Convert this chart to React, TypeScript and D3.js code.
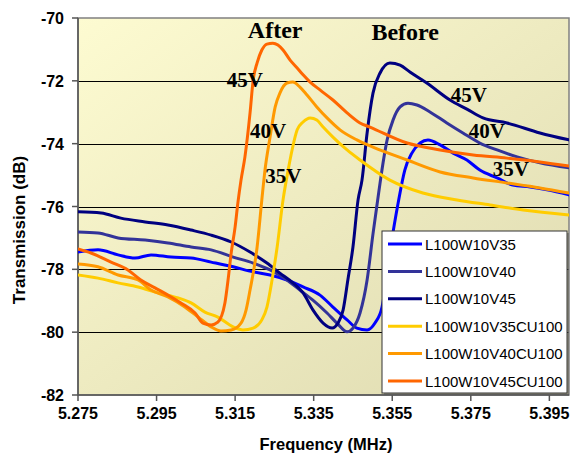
import React from "react";
import * as d3 from "d3";

type Pt = [number, number];

const seriesNames = [
  "L100W10V35",
  "L100W10V40",
  "L100W10V45",
  "L100W10V35CU100",
  "L100W10V40CU100",
  "L100W10V45CU100",
];
const seriesColors = ["#0000FF", "#333399", "#000080", "#FFCC00", "#FF9900", "#FF6600"];

const v35: Pt[] = [
  [5.275, -77.45], [5.2801, -77.38], [5.2852, -77.54], [5.2895, -77.64], [5.2936, -77.54],
  [5.2987, -77.61], [5.3038, -77.64], [5.3089, -77.77], [5.3145, -77.92], [5.3196, -78.08],
  [5.3239, -78.18], [5.3282, -78.34], [5.3323, -78.56], [5.3366, -78.82], [5.3399, -79.2],
  [5.3435, -79.61], [5.346, -79.87], [5.3486, -79.93], [5.3506, -79.71], [5.3524, -79.2],
  [5.3537, -78.18], [5.3549, -77.07], [5.3565, -75.89], [5.3582, -74.84], [5.36, -74.3],
  [5.3621, -73.98], [5.3641, -73.88], [5.3672, -74.04], [5.3705, -74.3], [5.374, -74.52],
  [5.3773, -74.84], [5.3817, -75.09], [5.3857, -75.32], [5.3901, -75.38], [5.3944, -75.47],
  [5.4, -75.63],
];
const v40: Pt[] = [
  [5.275, -76.81], [5.2801, -76.84], [5.2852, -77.0], [5.2921, -77.07], [5.2979, -77.16],
  [5.3038, -77.29], [5.3089, -77.38], [5.3145, -77.61], [5.3196, -77.8], [5.3239, -78.02],
  [5.3282, -78.34], [5.3315, -78.66], [5.3348, -78.98], [5.3384, -79.39], [5.3409, -79.71],
  [5.3435, -79.99], [5.345, -79.87], [5.3468, -79.39], [5.3486, -78.34], [5.3501, -76.87],
  [5.3514, -75.7], [5.3519, -75.25], [5.3537, -73.88], [5.3552, -73.25], [5.357, -72.83],
  [5.359, -72.71], [5.3613, -72.77], [5.3646, -72.99], [5.3689, -73.34], [5.373, -73.66],
  [5.3773, -73.98], [5.3817, -74.2], [5.3868, -74.42], [5.3926, -74.61], [5.4, -74.77],
];
const v45: Pt[] = [
  [5.275, -76.17], [5.2809, -76.21], [5.2859, -76.37], [5.2921, -76.49], [5.2979, -76.59],
  [5.3038, -76.75], [5.3089, -76.91], [5.314, -77.13], [5.3188, -77.45], [5.3231, -77.8],
  [5.3264, -78.12], [5.3297, -78.43], [5.3323, -78.75], [5.3348, -79.29], [5.3374, -79.71],
  [5.3397, -79.87], [5.3412, -79.71], [5.3425, -79.29], [5.3437, -78.34], [5.345, -77.29],
  [5.3463, -75.79], [5.3473, -75.16], [5.3486, -73.66], [5.3501, -72.39], [5.3519, -71.75],
  [5.3544, -71.43], [5.357, -71.5], [5.3595, -71.72], [5.3638, -72.07], [5.3697, -72.61],
  [5.374, -72.9], [5.3781, -73.18], [5.3842, -73.34], [5.3926, -73.66], [5.4, -73.88],
];
const v35cu: Pt[] = [
  [5.275, -78.18], [5.2801, -78.28], [5.2852, -78.43], [5.2903, -78.56], [5.2954, -78.75],
  [5.3005, -78.91], [5.3038, -79.07], [5.3073, -79.36], [5.3106, -79.52], [5.3145, -79.83],
  [5.317, -79.93], [5.3196, -79.87], [5.3218, -79.61], [5.3231, -79.2], [5.3244, -78.34],
  [5.3257, -77.29], [5.3272, -75.79], [5.3285, -74.84], [5.3295, -74.2], [5.3308, -73.56],
  [5.3323, -73.31], [5.3341, -73.18], [5.3358, -73.25], [5.3374, -73.47], [5.3399, -73.79],
  [5.3435, -74.2], [5.3468, -74.52], [5.3544, -75.16], [5.3628, -75.57], [5.3715, -75.79],
  [5.3799, -75.95], [5.3883, -76.11], [5.4, -76.27],
];
const v40cu: Pt[] = [
  [5.275, -77.83], [5.2801, -77.92], [5.2852, -78.18], [5.2903, -78.34], [5.2936, -78.66],
  [5.2979, -78.88], [5.3022, -79.2], [5.3056, -79.52], [5.3089, -79.83], [5.3114, -79.96],
  [5.314, -79.93], [5.3165, -79.71], [5.3178, -79.29], [5.3188, -78.66], [5.3206, -77.29],
  [5.3218, -75.79], [5.3226, -74.84], [5.3239, -73.79], [5.3252, -72.83], [5.3264, -72.39],
  [5.3282, -72.07], [5.3297, -72.04], [5.3315, -72.2], [5.3333, -72.45], [5.3358, -72.83],
  [5.3384, -73.18], [5.3417, -73.56], [5.346, -73.88], [5.3501, -74.11], [5.3588, -74.52],
  [5.3672, -74.9], [5.3756, -75.09], [5.3842, -75.25], [5.3926, -75.41], [5.4, -75.57],
];
const v45cu: Pt[] = [
  [5.275, -77.35], [5.2783, -77.48], [5.2834, -77.77], [5.2877, -78.02], [5.291, -78.34],
  [5.2946, -78.59], [5.2979, -78.82], [5.3012, -79.07], [5.3048, -79.39], [5.3068, -79.71],
  [5.3089, -79.77], [5.3106, -79.68], [5.3124, -79.07], [5.3132, -78.34], [5.314, -77.48],
  [5.315, -76.65], [5.3157, -75.89], [5.3165, -75.16], [5.3175, -74.42], [5.3188, -73.02],
  [5.3196, -71.97], [5.3206, -71.43], [5.3218, -71.02], [5.3231, -70.83], [5.3246, -70.8],
  [5.3259, -70.86], [5.3272, -71.02], [5.329, -71.34], [5.3308, -71.59], [5.3323, -71.81],
  [5.3341, -72.04], [5.3366, -72.29], [5.3399, -72.61], [5.3435, -73.02], [5.3468, -73.34],
  [5.3493, -73.47], [5.3588, -73.98], [5.3672, -74.2], [5.3756, -74.36], [5.3842, -74.46],
  [5.3926, -74.58], [5.4, -74.71],
];
const allSeries = [v35, v40, v45, v35cu, v40cu, v45cu];

const xTicks = [5.275, 5.295, 5.315, 5.335, 5.355, 5.375, 5.395];
const yTicks = [-82, -80, -78, -76, -74, -72, -70];
const gridValues = [-80, -78, -76, -74, -72];

const groupLabels = ["After", "Before"];
const groupLabelFreq = [5.3252, 5.3583];
const groupLabelDb = [-70.63, -70.7];

const voltLabels = ["45V", "40V", "35V", "45V", "40V", "35V"];
const voltLabelFreq = [5.3175, 5.3234, 5.3273, 5.3745, 5.3791, 5.3852];
const voltLabelDb = [-72.2, -73.82, -75.25, -72.67, -73.82, -75.03];

const W = 570;
const H = 453;
const M = { left: 78, right: 569, top: 18, bottom: 395 };

export default function App() {
  const x = d3.scaleLinear().domain([5.275, 5.4]).range([M.left, M.right]);
  const y = d3.scaleLinear().domain([-82, -70]).range([M.bottom, M.top]);
  const line = d3
    .line<Pt>()
    .x((d) => x(d[0]))
    .y((d) => y(d[1]))
    .curve(d3.curveMonotoneX);

  const legX = 382;
  const legY = 231;
  const legW = 185;
  const legH = 162;
  const rowH = 27.4;

  return (
    <svg
      width={W}
      height={H}
      style={{ position: "absolute", left: 0, top: 0, background: "#fff" }}
      fontFamily="Liberation Sans, Arial, sans-serif"
    >
      <defs>
        <linearGradient id="bg" x1="0" y1="0" x2="1" y2="1">
          <stop offset="0%" stopColor="#FDFBD1" />
          <stop offset="100%" stopColor="#DEDAB0" />
        </linearGradient>
        <clipPath id="plot">
          <rect x={M.left} y={M.top} width={M.right - M.left} height={M.bottom - M.top} />
        </clipPath>
      </defs>
      <rect
        x={M.left}
        y={M.top}
        width={M.right - M.left}
        height={M.bottom - M.top}
        fill="url(#bg)"
      />
      {gridValues.map((v) => (
        <line
          key={v}
          x1={M.left}
          x2={M.right}
          y1={Math.round(y(v)) + 0.5}
          y2={Math.round(y(v)) + 0.5}
          stroke="#000"
          strokeWidth={1}
        />
      ))}
      <rect
        x={M.left}
        y={M.top}
        width={M.right - M.left}
        height={M.bottom - M.top}
        fill="none"
        stroke="#808080"
        strokeWidth={1.5}
      />
      <line x1={M.left} x2={M.left} y1={M.top} y2={M.bottom} stroke="#555" strokeWidth={1.5} />
      <line x1={M.left} x2={M.right} y1={M.bottom} y2={M.bottom} stroke="#555" strokeWidth={1.5} />
      {yTicks.map((t) => (
        <g key={t}>
          <line x1={M.left - 6} x2={M.left} y1={y(t)} y2={y(t)} stroke="#555" strokeWidth={1.5} />
          <text
            x={M.left - 14}
            y={y(t) + 6}
            textAnchor="end"
            fontSize={16}
            fontWeight="bold"
            fill="#000"
          >
            {t}
          </text>
        </g>
      ))}
      {xTicks.map((t) => (
        <g key={t}>
          <line x1={x(t)} x2={x(t)} y1={M.bottom} y2={M.bottom + 6} stroke="#555" strokeWidth={1.5} />
          <text x={x(t)} y={419} textAnchor="middle" fontSize={16} fontWeight="bold" fill="#000">
            {t.toFixed(3)}
          </text>
        </g>
      ))}
      <text x={326} y={450} textAnchor="middle" fontSize={16.5} fontWeight="bold" fill="#000">
        Frequency (MHz)
      </text>
      <text
        transform={`translate(25,${230}) rotate(-90)`}
        textAnchor="middle"
        fontSize={17}
        fontWeight="bold"
        fill="#000"
      >
        Transmission (dB)
      </text>
      <g clipPath="url(#plot)">
        {allSeries.map((s, i) => (
          <path
            key={seriesNames[i]}
            d={line(s) || ""}
            fill="none"
            stroke={seriesColors[i]}
            strokeWidth={3}
            strokeLinejoin="round"
            strokeLinecap="round"
          />
        ))}
      </g>
      {groupLabels.map((t, i) => (
        <text
          key={t}
          x={x(groupLabelFreq[i])}
          y={y(groupLabelDb[i])}
          textAnchor="middle"
          fontFamily="Liberation Serif, Times New Roman, serif"
          fontWeight="bold"
          fontSize={24}
          fill="#000"
        >
          {t}
        </text>
      ))}
      {voltLabels.map((t, i) => (
        <text
          key={i}
          x={x(voltLabelFreq[i])}
          y={y(voltLabelDb[i])}
          textAnchor="middle"
          fontFamily="Liberation Serif, Times New Roman, serif"
          fontWeight="bold"
          fontSize={21}
          fill="#000"
        >
          {t}
        </text>
      ))}
      <rect x={legX + 2} y={legY + 2} width={legW} height={legH} fill="#555" opacity={0.5} />
      <rect x={legX} y={legY} width={legW} height={legH} fill="#fff" stroke="#333" strokeWidth={1} />
      {seriesNames.map((n, i) => {
        const cy = legY + 13 + i * rowH;
        return (
          <g key={n}>
            <line x1={legX + 6} x2={legX + 40} y1={cy} y2={cy} stroke={seriesColors[i]} strokeWidth={3} />
            <text x={legX + 43} y={cy + 5.5} fontSize={15} fill="#000">
              {n}
            </text>
          </g>
        );
      })}
    </svg>
  );
}
